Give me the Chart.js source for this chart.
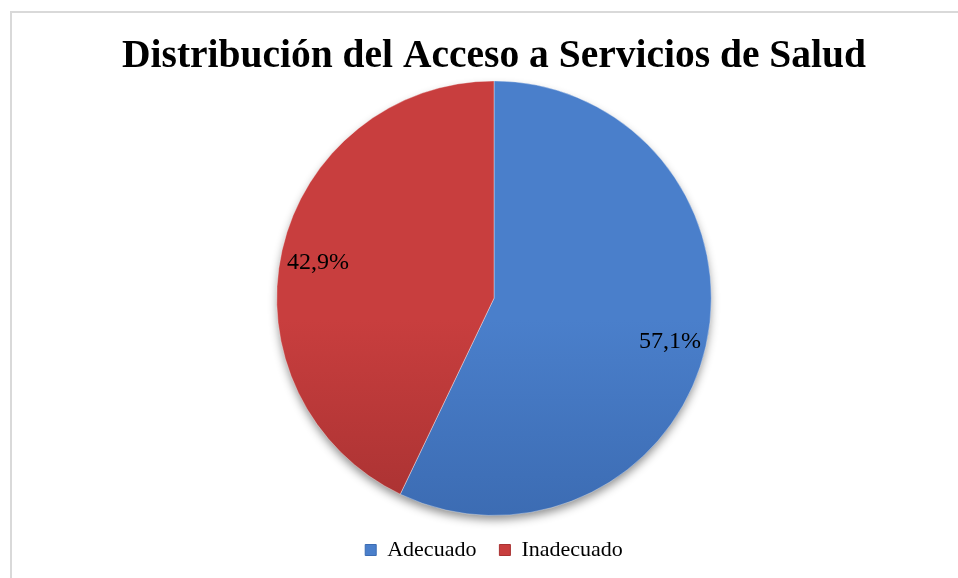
<!DOCTYPE html>
<html>
<head>
<meta charset="utf-8">
<script src="https://cdn.jsdelivr.net/npm/chart.js@4.4.0/dist/chart.umd.min.js"></script>
<style>
html,body{margin:0;padding:0;background:#fff;}
#wrap{position:relative;width:958px;height:578px;overflow:hidden;}
#frame{position:absolute;left:10px;top:11px;width:1000px;height:1000px;border-left:2px solid #d9d9d9;border-top:2px solid #d9d9d9;}
canvas{position:absolute;left:0;top:0;}
</style>
</head>
<body>
<div id="wrap"><div id="frame"></div><canvas id="myChart" width="958" height="578"></canvas></div>
<script>
var categorias = ["Adecuado", "Inadecuado"];
var porcentajes = [57.1, 42.9];
var etiquetas = ["57,1%", "42,9%"];
var colores = ["#4a7fcb", "#c83e3e"];
var coloresOscuros = ["#3c6cb3", "#a93232"];

var fuente = "'Liberation Serif', 'DejaVu Serif', serif";

function degradado(ctx, i){
    var chart = ctx.chart;
    var area = chart.chartArea;
    if(!area) return colores[i];
    var g = chart.ctx.createLinearGradient(0, area.top, 0, area.bottom);
    g.addColorStop(0, colores[i]);
    g.addColorStop(0.55, colores[i]);
    g.addColorStop(1, coloresOscuros[i]);
    return g;
}

// sombra suave debajo del pastel
var sombra = {
    id: "sombra",
    beforeDatasetsDraw: function(chart){
        var arc = chart.getDatasetMeta(0).data[0];
        if(!arc) return;
        var c = chart.ctx;
        c.save();
        c.shadowColor = "rgba(0,0,0,0.45)";
        c.shadowBlur = 10;
        c.shadowOffsetY = 5;
        c.fillStyle = "#ffffff";
        c.beginPath();
        c.arc(arc.x, arc.y, arc.outerRadius - 1, 0, Math.PI*2);
        c.fill();
        c.restore();
    }
};

// etiquetas de porcentaje
var rotulos = {
    id: "rotulos",
    afterDatasetsDraw: function(chart){
        var c = chart.ctx;
        var meta = chart.getDatasetMeta(0);
        c.save();
        c.font = "24px " + fuente;
        c.fillStyle = "#000";
        c.textAlign = "center";
        c.textBaseline = "middle";
        meta.data.forEach(function(arc, i){
            var ang = (arc.startAngle + arc.endAngle)/2;
            var r = arc.outerRadius*0.83;
            c.fillText(etiquetas[i], arc.x + Math.cos(ang)*r, arc.y + Math.sin(ang)*r + 4);
        });
        c.restore();
    }
};

new Chart("myChart", {
    type: "pie",
    data: {
        labels: categorias,
        datasets: [{
            data: porcentajes,
            backgroundColor: function(ctx){ return degradado(ctx, ctx.dataIndex); },
            borderColor: "rgba(255,255,255,0.35)",
            borderWidth: 1
        }]
    },
    options: {
        responsive: false,
        animation: false,
        devicePixelRatio: 1,
        layout: { padding: { left: 30, right: 0, top: 0, bottom: 7 } },
        plugins: {
            title: {
                display: true,
                text: "Distribución del Acceso a Servicios de Salud",
                color: "#000",
                font: { family: fuente, size: 39.5, weight: "bold", lineHeight: 1.2 },
                padding: { top: 33, bottom: 0 }
            },
            legend: {
                position: "bottom",
                labels: {
                    color: "#000",
                    boxWidth: 11,
                    boxHeight: 11,
                    padding: 23,
                    font: { family: fuente, size: 22 },
                    generateLabels: function(chart){
                        return categorias.map(function(t, i){
                            return { text: t, fillStyle: colores[i], strokeStyle: coloresOscuros[i], lineWidth: 1, index: i };
                        });
                    }
                }
            },
            tooltip: { enabled: false }
        }
    },
    plugins: [sombra, rotulos]
});
</script>
</body>
</html>
